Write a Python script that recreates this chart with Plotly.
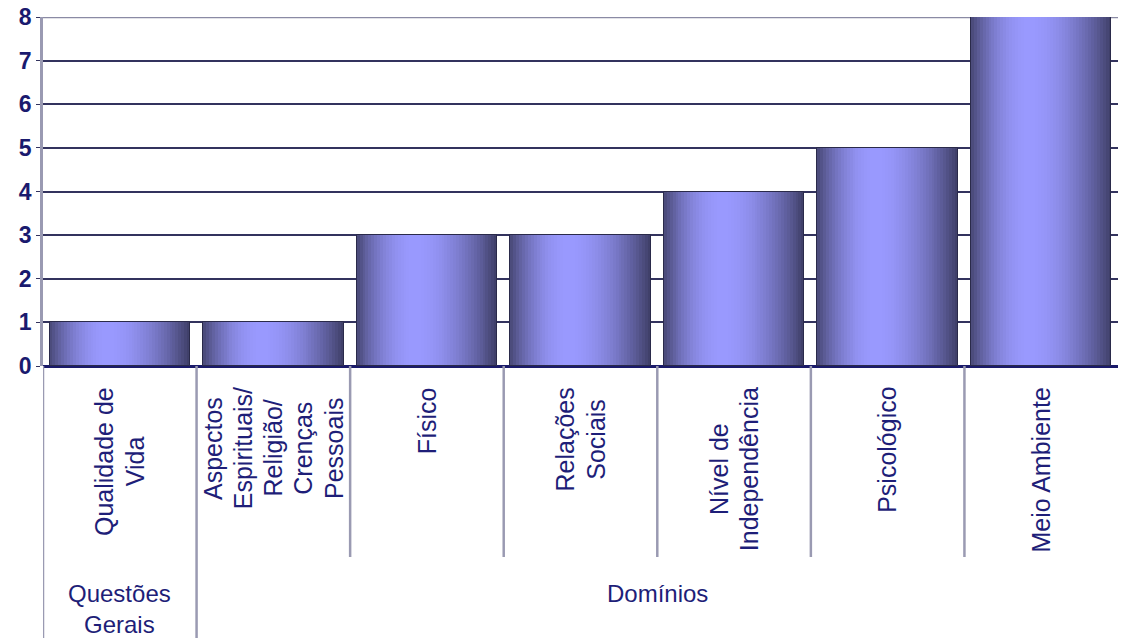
import plotly.graph_objects as go

# ---- data ----
categories = ["Qualidade de<br>Vida",
              "Aspectos<br>Espirituais/<br>Religião/<br>Crenças<br>Pessoais",
              "Físico",
              "Relações<br>Sociais",
              "Nível de<br>Independência",
              "Psicológico",
              "Meio Ambiente"]
values = [1, 1, 3, 3, 4, 5, 8]
groups = ["Questões<br>Gerais", "Domínios"]
group_spans = [(0, 0), (1, 6)]
y_ticks = [0, 1, 2, 3, 4, 5, 6, 7, 8]

# ---- layout constants ----
W, H = 1123, 638
ML, MR, MT, MB = 43, 5, 17, 272
PH = H - MT - MB  # plot height in px


def py(p):  # pixel y -> paper y
    return (H - MB - p) / PH


# Arial / Liberation Sans advance widths (per 1000 em) for text length estimates
AW = {'Q': 778, 'u': 556, 'a': 556, 'l': 222, 'i': 222, 'd': 556, 'e': 556,
      ' ': 278, 'V': 667, 'A': 667, 's': 500, 'p': 556, 'c': 500, 't': 278,
      'o': 556, 'E': 667, 'r': 333, '/': 278, 'R': 722, 'g': 556, 'ã': 556,
      'C': 722, 'n': 556, 'ç': 500, 'P': 667, 'F': 611, 'í': 278, 'õ': 556,
      'S': 667, 'N': 722, 'v': 500, 'I': 278, 'ê': 556, 'ó': 556, 'M': 833,
      'm': 833, 'b': 556, 'y': 500, 'D': 722, 'G': 778}


def text_len(s, size):
    return sum(AW.get(ch, 556) for ch in s) * size / 1000.0


x_idx = list(range(len(categories)))
bar_w = 0.915
N = 48
dark_l = (72, 72, 118)
dark_r = (62, 62, 102)
light = (154, 154, 255)
peak = 0.42

fig = go.Figure()
for i in range(N):
    t = (i + 0.5) / N
    if t < peak:
        f = 1 - ((peak - t) / peak) ** 2
        dk = dark_l
    else:
        f = 1 - ((t - peak) / (1 - peak)) ** 1.8
        dk = dark_r
    f = max(0.0, min(1.0, f))
    c = tuple(int(dk[k] + (light[k] - dk[k]) * f) for k in range(3))
    col = "rgb(%d,%d,%d)" % c
    wi = bar_w / N * (1.6 if i < N - 1 else 1.0)
    fig.add_trace(go.Bar(
        x=x_idx, y=values, width=wi,
        offset=-bar_w / 2 + i * bar_w / N,
        marker=dict(color=col, line=dict(width=0)),
        hoverinfo="skip", showlegend=False))

fig.add_trace(go.Bar(
    x=x_idx, y=values, width=bar_w,
    marker=dict(color="rgba(0,0,0,0)", line=dict(color="#2a2a4a", width=1)),
    showlegend=False, hoverinfo="skip"))

# rotated category labels, one annotation per line, lines centred on block
LS = 25
label_font = dict(family="Liberation Sans, Arial, sans-serif", size=LS, color="#1e1e78")
line_gap = 0.197
top_px = 387
for i, lab in enumerate(categories):
    lines = lab.split("<br>")
    n = len(lines)
    maxw = max(text_len(ln, LS) for ln in lines)
    cy = top_px + maxw / 2
    for j, ln in enumerate(lines):
        fig.add_annotation(
            x=i + (j - (n - 1) / 2) * line_gap, xref="x",
            y=py(cy), yref="paper",
            text=ln, textangle=-90, showarrow=False,
            xanchor="center", yanchor="middle", font=label_font)

# group labels
group_font = dict(family="Liberation Sans, Arial, sans-serif", size=24, color="#1e1e78")
for g, (a, b) in zip(groups, group_spans):
    fig.add_annotation(
        x=(a + b) / 2, xref="x", y=py(578), yref="paper",
        text=g, showarrow=False, xanchor="center", yanchor="top",
        font=group_font)

# separators
sep_col = "#9a9ab2"
for k in range(len(categories)):
    xb = k - 0.5
    long = any(xb == s - 0.5 for s, _ in group_spans)
    fig.add_shape(type="line", xref="x", yref="paper",
                  x0=xb, x1=xb, y0=0, y1=py(H if long else 557),
                  line=dict(color=sep_col, width=2.5))

# top border line (behind bars)
fig.add_shape(type="line", xref="paper", yref="y", x0=0, x1=1, y0=8, y1=8,
              layer="below", line=dict(color="#8a8aa4", width=2.5))

fig.update_layout(
    width=W, height=H,
    margin=dict(l=ML, r=MR, t=MT, b=MB, autoexpand=False),
    paper_bgcolor="white", plot_bgcolor="white",
    barmode="overlay", bargap=0, showlegend=False,
    xaxis=dict(range=[-0.5, len(categories) - 0.5], showticklabels=False,
               showgrid=False, zeroline=False, showline=False, ticks="",
               automargin=False),
    yaxis=dict(range=[0, 8], tickvals=y_ticks, showgrid=True, automargin=False,
               gridcolor="#33335e", gridwidth=1.5,
               zeroline=True, zerolinecolor="#1a1a6a", zerolinewidth=2.5,
               showline=True, linecolor="#9a9ab2", linewidth=2.5,
               ticks="outside", ticklen=4, tickcolor="#33335e",
               tickfont=dict(family="Liberation Sans, Arial, sans-serif",
                             size=23, color="#1a1a6e", weight="bold")),
)

fig.write_html("out.html",
               config={"displayModeBar": False},
               post_script="document.body.style.margin='0';"
                           "document.body.style.overflow='hidden';")
